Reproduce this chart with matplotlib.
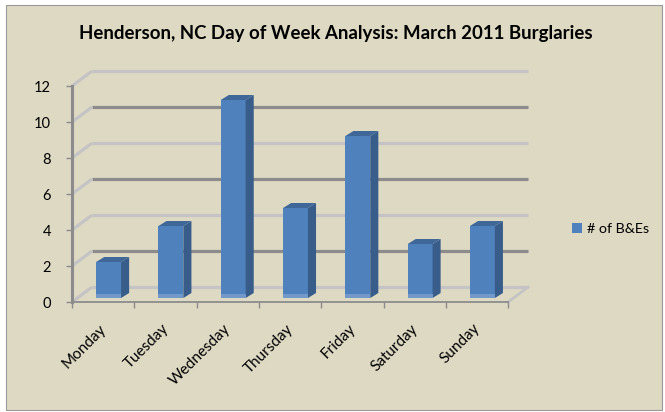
import matplotlib
matplotlib.use("Agg")
import matplotlib.pyplot as plt
import matplotlib.transforms as mtransforms
from matplotlib.patches import Polygon, Rectangle, Patch

days = ["Monday", "Tuesday", "Wednesday", "Thursday", "Friday", "Saturday", "Sunday"]
burglaries = [2, 4, 11, 5, 9, 3, 4]
yticks = [0, 2, 4, 6, 8, 10, 12]
series_name = "# of B&Es"
title = "Henderson, NC Day of Week Analysis: March 2011 Burglaries"

plt.rcParams['font.family'] = ['Lato', 'DejaVu Sans']

BG = '#DDD9C3'
FRONT = '#4F81BD'
SIDE = '#385D8A'
TOP = '#3F6899'
BAND = '#7399CB'
DARKG = '#8C8C8C'
LIGHTG = '#C4C4C4'

W, H = 665, 412
fig = plt.figure(figsize=(W / 100, H / 100), dpi=100)
fig.patch.set_facecolor('white')
fig.patches.append(Rectangle((6 / W, 2 / H), 656 / W, 405 / H, transform=fig.transFigure,
                             facecolor=BG, edgecolor='#9A9A9A', linewidth=0.8, zorder=-10))

# axes: left px 72, right px 530, bottom px 302, top px 70
ax = fig.add_axes([72 / W, (H - 302) / H, (530 - 72) / W, (302 - 70) / H])
ax.set_facecolor('none')
n = len(days)
xmin = -0.5
xmax = -0.5 + (530 - 72) / 62.3
ax.set_xlim(xmin, xmax)
ax.set_ylim(0, (302 - 70) / 18.0)

DX, DY = 0.321, 0.83      # depth of the plot box
FX, FY = 0.087, 0.22      # front face offset of bars
SX, SY = 0.13, 0.28       # bar depth
BW = 0.4

# back wall gridlines and left wall lines
for i, v in enumerate(yticks):
    col = LIGHTG if i % 2 == 0 else DARKG
    ax.plot([xmin + DX, n - 0.5 + DX], [v + DY, v + DY], color=col, lw=2.3,
            solid_capstyle='butt', zorder=1, clip_on=False)
    ax.plot([xmin, xmin + DX], [v, v + DY], color=LIGHTG, lw=2.3,
            solid_capstyle='butt', zorder=1, clip_on=False)
# floor right edge
ax.plot([n - 0.5, n - 0.5 + DX], [0, DY], color=LIGHTG, lw=2.0, zorder=1, clip_on=False)

# bars
xs = [i + FX for i in range(n)]
ax.bar(xs, burglaries, bottom=FY, width=BW, color=FRONT, zorder=3, linewidth=0)
for x, v in zip(xs, burglaries):
    x0, x1 = x - BW / 2, x + BW / 2
    b, t = FY, FY + v
    ax.add_patch(Rectangle((x0, b), BW, 0.22, facecolor=BAND, lw=0, zorder=4))
    ax.add_patch(Polygon([(x1, b), (x1, t), (x1 + SX, t + SY), (x1 + SX, b + SY)],
                         closed=True, facecolor=SIDE, lw=0, zorder=3))
    ax.add_patch(Polygon([(x0, t), (x1, t), (x1 + SX, t + SY), (x0 + SX, t + SY)],
                         closed=True, facecolor=TOP, lw=0, zorder=3))

# spines
for s in ['top', 'right']:
    ax.spines[s].set_visible(False)
ax.spines['left'].set_bounds(0, 12)
ax.spines['left'].set_color(DARKG)
ax.spines['left'].set_linewidth(2.2)
ax.spines['left'].set_zorder(5)
ax.spines['bottom'].set_bounds(-0.5, n - 0.5)
ax.spines['bottom'].set_color(DARKG)
ax.spines['bottom'].set_linewidth(1.3)

ax.set_yticks(yticks)
ax.set_yticklabels([str(v) for v in yticks], fontsize=10.5, color='black')
ax.tick_params(axis='y', length=4, width=1, color=DARKG, pad=11)

ax.set_xticks(range(n))
ax.set_xticklabels(days, rotation=45, ha='right', va='top', rotation_mode='anchor',
                   fontsize=11, color='black')
ax.tick_params(axis='x', which='major', length=0, pad=14)
ax.set_xticks([i - 0.5 for i in range(n + 1)], minor=True)
ax.tick_params(axis='x', which='minor', length=4, width=1, color=DARKG)
shift = mtransforms.ScaledTranslation(-4 / 100, 0, fig.dpi_scale_trans)
for lbl in ax.get_xticklabels():
    lbl.set_transform(lbl.get_transform() + shift)

fig.text(336 / W, 1 - 33 / H, title, ha='center', va='center', fontsize=13.4,
         fontweight='bold', color='black')

fig.legend(handles=[Patch(facecolor=FRONT, edgecolor='none')], labels=[series_name],
           loc='center left', bbox_to_anchor=(566 / W, 1 - 229 / H), frameon=False,
           fontsize=10.3, handlelength=0.7, handleheight=0.7, handletextpad=0.4,
           borderaxespad=0)

fig.savefig('out.png', dpi=100, facecolor='white')
